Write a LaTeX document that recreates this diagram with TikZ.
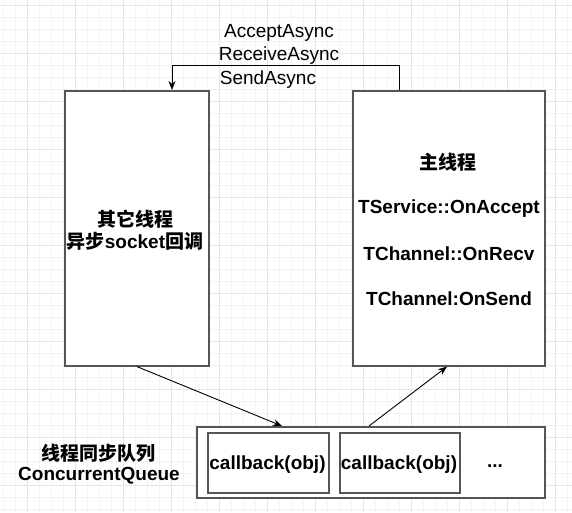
\documentclass[tikz,border=0pt]{standalone}
\usepackage{fontspec}
\setmainfont{Liberation Sans}
\newfontfamily\cjk{Noto Sans CJK SC}
\usetikzlibrary{arrows.meta}
\definecolor{boxline}{HTML}{555555}
\definecolor{gridmajor}{HTML}{E6E6E6}
\definecolor{gridminor}{HTML}{F3F3F3}
\begin{document}
\begin{tikzpicture}[x=1pt,y=-1pt,
  box/.style={draw=boxline,line width=1.6pt,fill=white},
  conn/.style={draw=black,line width=0.9pt,-{Stealth[length=9pt,width=7pt]}},
  lbl/.style={font=\fontsize{19}{21}\selectfont,inner sep=0pt},
  blbl/.style={font=\fontsize{19}{21}\selectfont\bfseries,inner sep=0pt},
  cjklbl/.style={font=\fontsize{19}{21}\selectfont\cjk\bfseries,inner sep=0pt}]
\useasboundingbox (0,0) rectangle (572,512);
\fill[white] (0,0) rectangle (572,512);
% grid
\foreach \i in {0,...,48} {
  \draw[gridminor,line width=0.8pt] ({3.3+12*\i},0) -- ({3.3+12*\i},512);
  \draw[gridminor,line width=0.8pt] (0,{5.3+12*\i}) -- (572,{5.3+12*\i});
}
\foreach \i in {0,...,12} {
  \draw[gridmajor,line width=0.8pt] ({27.3+48*\i},0) -- ({27.3+48*\i},512);
  \draw[gridmajor,line width=0.8pt] (0,{5.3+48*\i}) -- (572,{5.3+48*\i});
}
% boxes
\node[box,minimum width=144pt,minimum height=275pt,anchor=north west,inner sep=0pt] (left) at (64,90) {};
\node[box,minimum width=192pt,minimum height=275pt,anchor=north west,inner sep=0pt] (right) at (352,90) {};
\node[box,minimum width=348pt,minimum height=71pt,anchor=north west,inner sep=0pt] (queue) at (196,426) {};
\node[box,minimum width=121pt,minimum height=60pt,anchor=north west,inner sep=0pt] (cb1) at (207,432) {};
\node[box,minimum width=120pt,minimum height=60pt,anchor=north west,inner sep=0pt] (cb2) at (339,432) {};
\node[blbl] (cbt1) at (267.5,465) {callback(obj)};
\node[blbl] (cbt2) at (399,465) {callback(obj)};
\node[blbl] (dots) at (495,466) {...};
% left text
\node[cjklbl] (l1) at (135,219) {其它线程};
\node[cjklbl] (l2) at (135,241) {异步\fontspec{Liberation Sans}\bfseries socket\cjk\bfseries 回调};
% right text
\node[cjklbl] (r0) at (448,162) {主线程};
\node[blbl] (r1) at (449,209) {TService::OnAccept};
\node[blbl] (r2) at (449,254) {TChannel::OnRecv};
\node[blbl] (r3) at (449,299) {TChannel:OnSend};
% queue label
\node[cjklbl] (q1) at (98,453) {线程同步队列};
\node[blbl] (q2) at (99,476) {ConcurrentQueue};
% top labels
\node[lbl] (t1) at (279,33) {AcceptAsync};
\node[lbl] (t2) at (279,56) {ReceiveAsync};
\node[lbl] (t3) at (268,80) {SendAsync};
% connectors
\coordinate (c1) at (399,65);
\coordinate (c2) at (172,65);
\draw[conn] (right.north west -| c1) -- (c1) -- (c2) -- (left.north west -| c2);
\draw[conn] (left.south west -| 137,0) -- (queue.north west -| 282,0);
\draw[conn] (queue.north west -| 369,0) -- (right.south west -| 447,0);
\end{tikzpicture}
\end{document}
